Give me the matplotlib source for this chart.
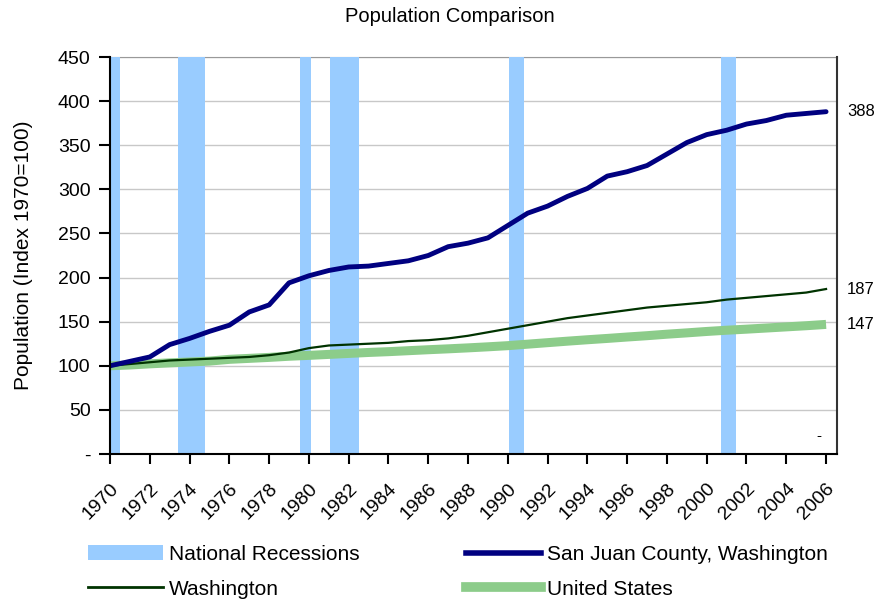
import numpy as np
import matplotlib
matplotlib.use("Agg")
import matplotlib.pyplot as plt
from matplotlib.lines import Line2D
from matplotlib.patches import Patch

# Chart data
years = list(range(1970, 2007))

san_juan = [100, 105, 110, 124, 131, 139, 146, 161, 169, 194,
            202, 208, 212, 213, 216, 219, 225, 235, 239, 245,
            259, 273, 281, 292, 301, 315, 320, 327, 340, 353,
            362, 367, 374, 378, 384, 386, 388]

washington = [100, 102, 104, 106, 107, 108, 109, 110, 112, 115,
              120, 123, 124, 125, 126, 128, 129, 131, 134, 138,
              142, 146, 150, 154, 157, 160, 163, 166, 168, 170,
              172, 175, 177, 179, 181, 183, 187]

united_states = [100, 100.9, 102.2, 103.3, 104.3, 105.3, 107.3, 108.4, 109.5, 110.8,
                 111.8, 112.9, 114.0, 115.1, 116.0, 117.1, 118.2, 119.2, 120.3, 121.5,
                 122.8, 124.5, 126.2, 127.9, 129.5, 131.0, 132.6, 134.1, 135.8, 137.3,
                 138.9, 140.3, 141.5, 142.8, 144.1, 145.4, 146.9]

# Recession shading (start, end) as placed on the chart's year axis
recession_start = [1970.0, 1973.4, 1979.55, 1981.05, 1990.05, 2000.7]
recession_end = [1970.5, 1974.8, 1980.13, 1982.5, 1990.8, 2001.46]

end_labels = ["388", "187", "147"]
end_values = [san_juan[-1], washington[-1], united_states[-1]]

y_ticks = list(range(0, 451, 50))
y_tick_labels = ["-"] + [str(v) for v in y_ticks[1:]]
x_ticks = list(range(1970, 2007, 2))

FONT = ["Liberation Sans", "DejaVu Sans"]
REC_COLOR = "#99ccff"
SJ_COLOR = "#000080"
WA_COLOR = "#003300"
US_COLOR = "#8ccc8a"


def draw_chart():
    """Build the population comparison chart and save it."""
    plt.rcParams["font.family"] = FONT
    fig = plt.figure(figsize=(8.78, 6.01), dpi=100)
    ax = fig.add_axes([110 / 878, 1 - 454 / 601, 727 / 878, 397 / 601])

    # Gridlines under everything
    for v in y_ticks[1:]:
        ax.axhline(v, color="#c8c8c8", lw=1, zorder=0.5)

    # National recessions
    for s, e in zip(recession_start, recession_end):
        ax.axvspan(s, e, color=REC_COLOR, lw=0, zorder=3)

    ax.plot(years, united_states, color=US_COLOR, lw=6.5, solid_capstyle="butt", zorder=4)
    ax.plot(years, washington, color=WA_COLOR, lw=1.6, zorder=5)
    ax.plot(years, san_juan, color=SJ_COLOR, lw=3.5, solid_capstyle="round", zorder=6)

    # End of series value labels
    for lab, val in zip(end_labels, end_values):
        ax.annotate(lab, xy=(years[-1], val), xytext=(21, 0), textcoords="offset pixels",
                    fontsize=12, va="center", ha="left", annotation_clip=False)
    ax.annotate("-", xy=(years[-1], 0), xytext=(-7, 18), textcoords="offset pixels",
                fontsize=11, va="center", ha="center")

    ax.set_xlim(1970, 2006.55)
    ax.set_ylim(0, 450)
    ax.set_yticks(y_ticks)
    ax.set_yticklabels(y_tick_labels, fontsize=14)
    ax.set_xticks(x_ticks)
    ax.set_xticklabels([str(y) for y in x_ticks], fontsize=14, rotation=45,
                       ha="right", rotation_mode="anchor")
    ax.tick_params(axis="y", direction="out", length=8, width=1.5, pad=6)
    ax.tick_params(axis="x", direction="out", length=7, width=1.5, pad=12)

    for side in ["left", "bottom"]:
        ax.spines[side].set_linewidth(1.5)
        ax.spines[side].set_color("black")
        ax.spines[side].set_zorder(7)
    ax.spines["top"].set_color("#999999")
    ax.spines["top"].set_zorder(2)
    ax.spines["right"].set_color("#333333")
    ax.spines["right"].set_linewidth(1.5)

    ax.set_ylabel("Population (Index 1970=100)", fontsize=15, labelpad=18)
    fig.text(450 / 878, 1 - 17 / 601, "Population Comparison", fontsize=14.5,
             ha="center", va="center")

    handles = [Patch(facecolor=REC_COLOR, edgecolor="none"),
               Line2D([0], [0], color=WA_COLOR, lw=2),
               Line2D([0], [0], color=SJ_COLOR, lw=4),
               Line2D([0], [0], color=US_COLOR, lw=7)]
    labels = ["National Recessions", "Washington",
              "San Juan County, Washington", "United States"]
    fig.legend(handles, labels, loc="upper left", bbox_to_anchor=(88 / 878, 1 - 545 / 601),
               ncol=2, frameon=False, fontsize=15, handlelength=3.6, handleheight=0.7,
               handletextpad=0.3, columnspacing=5.1, labelspacing=0.75, borderpad=0,
               borderaxespad=0)

    fig.savefig("out.png", dpi=100)


def main():
    draw_chart()


if __name__ == "__main__":
    main()
